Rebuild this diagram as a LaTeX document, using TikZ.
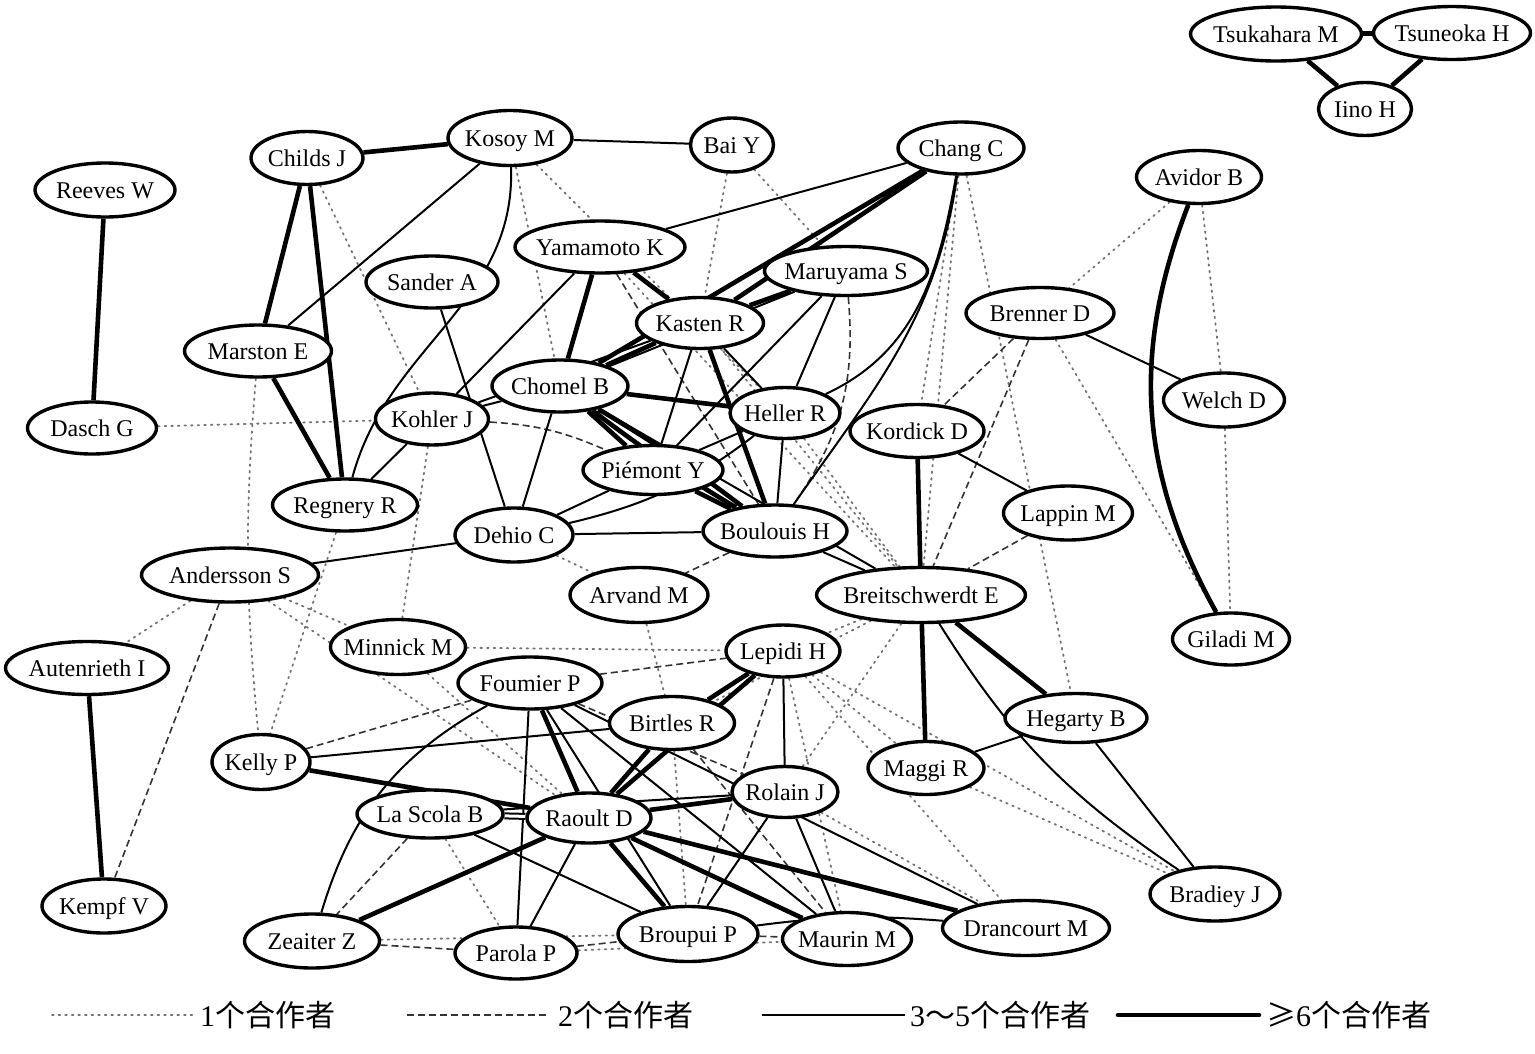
\documentclass[tikz,border=0pt]{standalone}
\usepackage{fontspec}
\setmainfont{Liberation Serif}
\newfontfamily\cjk{Noto Sans CJK SC}
\usetikzlibrary{shapes.geometric,backgrounds}
\newcommand\aun[5]{\node[au,minimum width=#4pt,minimum height=#5pt] (#1) at (#2) {\makebox[0pt]{#3}};}
\begin{document}
\begin{tikzpicture}[x=1pt,y=-1pt,
 au/.style={draw, ellipse, line width=3.4pt, fill=white, inner sep=0pt, text height=16pt, text depth=0pt, font=\fontsize{24}{27}\selectfont},
 th/.style={line width=4.6pt},
 md/.style={line width=2pt},
 da/.style={line width=1.6pt, black!80, dash pattern=on 7pt off 4pt},
 dt/.style={line width=1.8pt, black!55, dash pattern=on 1.6pt off 5pt, line cap=round},
 lg/.style={inner sep=0pt, anchor=west, font=\fontsize{30}{34}\selectfont}]
\useasboundingbox (0,0) rectangle (1535,1053);
\aun{tsuk}{1276,34}{Tsukahara M}{171}{54}
\aun{tsun}{1452,33}{Tsuneoka H}{157}{53}
\aun{iino}{1365,109}{Iino H}{93}{53}
\aun{childs}{307,158}{Childs J}{112}{53}
\aun{kosoy}{510,138}{Kosoy M}{124}{55}
\aun{bai}{732,145}{Bai Y}{83}{54}
\aun{chang}{961,148}{Chang C}{126}{52}
\aun{avidor}{1199,177}{Avidor B}{125}{53}
\aun{reeves}{105,190}{Reeves W}{140}{54}
\aun{yama}{600,247}{Yamamoto K}{170}{52}
\aun{sander}{432,282}{Sander A}{132}{52}
\aun{maru}{846,271}{Maruyama S}{163}{49}
\aun{brenner}{1040,313}{Brenner D}{148}{51}
\aun{kasten}{700,323}{Kasten R}{127}{51}
\aun{marston}{258,351}{Marston E}{147}{52}
\aun{chomel}{560,386}{Chomel B}{136}{52}
\aun{heller}{785,413}{Heller R}{110}{51}
\aun{welch}{1224,400}{Welch D}{121}{54}
\aun{kohler}{432,419}{Kohler J}{113}{52}
\aun{dasch}{92,428}{Dasch G}{129}{52}
\aun{kordick}{917,431}{Kordick D}{134}{53}
\aun{piemont}{653,470}{Piémont Y}{140}{49}
\aun{regnery}{345,505}{Regnery R}{145}{52}
\aun{lappin}{1068,513}{Lappin M}{129}{54}
\aun{dehio}{514,535}{Dehio C}{118}{54}
\aun{boulouis}{775,531}{Boulouis H}{144}{52}
\aun{anders}{230,575}{Andersson S}{177}{54}
\aun{arvand}{639,595}{Arvand M}{138}{55}
\aun{breit}{921,595}{Breitschwerdt E}{209}{55}
\aun{giladi}{1231,639}{Giladi M}{117}{52}
\aun{minnick}{398,647}{Minnick M}{135}{55}
\aun{lepidi}{783,651}{Lepidi H}{114}{52}
\aun{auten}{87,668}{Autenrieth I}{163}{53}
\aun{foumier}{530,683}{Foumier P}{144}{52}
\aun{birtles}{672,723}{Birtles R}{125}{53}
\aun{hegarty}{1076,718}{Hegarty B}{142}{49}
\aun{kelly}{261,762}{Kelly P}{98}{55}
\aun{maggi}{926,768}{Maggi R}{116}{53}
\aun{rolain}{785,792}{Rolain J}{106}{51}
\aun{lascola}{430,814}{La Scola B}{146}{48}
\aun{raoult}{589,818}{Raoult D}{124}{50}
\aun{kempf}{104,906}{Kempf V}{124}{54}
\aun{bradiey}{1215,894}{Bradiey J}{130}{54}
\aun{dranc}{1026,928}{Drancourt M}{167}{55}
\aun{zeaiter}{312,941}{Zeaiter Z}{135}{54}
\aun{broupui}{688,934}{Broupui P}{140}{55}
\aun{maurin}{847,939}{Maurin M}{129}{53}
\aun{parola}{516,953}{Parola P}{122}{52}
\begin{scope}[on background layer]
% one collaborator
\draw[dt] (dasch)--(kohler) (avidor)--(brenner) (avidor)--(welch) (welch)--(giladi) (brenner)--(giladi) (chang)--(kordick) (chang)--(breit) (chang)--(hegarty) (kosoy)--(chomel) (kosoy)--(heller) (bai)--(kasten) (bai)--(maru) (childs)--(kohler) (regnery)--(kelly) (kohler)--(minnick) (anders)--(auten) (anders)--(minnick) (anders)--(raoult) (minnick)--(lepidi) (dehio)--(arvand) (arvand)--(birtles) (breit)--(lepidi) (breit)--(rolain) (lepidi)--(maggi) (lepidi)--(bradiey) (lepidi)--(dranc) (maggi)--(bradiey) (rolain)--(dranc) (zeaiter)--(broupui) (parola)--(maurin) (yama)--(breit) (kasten)--(breit) (heller)--(breit) (breit)--(birtles) (lepidi)--(maurin) (lascola)--(parola) (birtles)--(broupui) (minnick)--(raoult);
\draw[dt] (marston) to[bend right=5] (kelly);
% two collaborators
\draw[da] (kelly)--(foumier) (lepidi)--(broupui) (birtles)--(maurin) (foumier)--(lepidi) (boulouis)--(arvand) (broupui)--(maurin) (zeaiter)--(parola) (parola)--(broupui) (anders)--(kempf) (lascola)--(zeaiter) (brenner)--(kordick) (brenner)--(breit) (lappin)--(breit) (yama)--(boulouis) (foumier)--(rolain);
\draw[da] (maru) to[out=-85,in=55] (boulouis);
\draw[da] (kohler) to[bend left=10] (piemont);
% three to five collaborators
\draw[md] (kosoy)--(bai) (kosoy)--(marston) (chang)--(yama) (maru)--(chomel) (maru)--(heller) (maru)--(piemont) (kasten)--(heller) (kasten)--(piemont) (kasten)--(kohler) (yama)--(kohler) (chomel)--(kohler) (chomel)--(dehio) (chomel)--(breit) (heller)--(boulouis) (heller)--(piemont) (piemont)--(dehio) (dehio)--(boulouis) (dehio)--(anders) (sander)--(dehio) (kohler)--(regnery) (kordick)--(lappin) (brenner)--(welch) (hegarty)--(bradiey) (hegarty)--(maggi) (lepidi)--(rolain) (kelly)--(birtles) (foumier)--(parola) (foumier)--(broupui) (foumier)--(maurin) (foumier)--(dranc) (lascola)--(broupui) (lascola)--(rolain) (raoult)--(parola) (rolain)--(broupui) (rolain)--(maurin) (boulouis)--(breit);
\draw[md] (kosoy) to[out=-88,in=75] (regnery);
\draw[md] (chang) to[out=-100,in=25] (heller);
\draw[md] (chang) to[out=-98,in=55] (boulouis);
\draw[md] (heller) to[bend left=12] (dehio);
\draw[md] (foumier) to[bend right=22] (zeaiter);
\draw[md] (breit) to[bend right=12] (bradiey);
\draw[md] (broupui) to[bend left=6] (dranc);
\draw[md, double, double distance=3pt] (lascola)--(raoult);
% six or more collaborators
\draw[th] (tsuk)--(tsun) (tsuk)--(iino) (tsun)--(iino) (reeves)--(dasch) (childs)--(kosoy) (childs)--(marston) (childs)--(regnery) (marston)--(regnery) (auten)--(kempf);
\draw[th] (avidor) to[bend right=25] (giladi);
\draw[th] (chang)--(kasten) (chang)--(chomel) (yama)--(chomel) (yama)--(kasten) (kasten)--(chomel) (kasten)--(boulouis) (chomel)--(heller) (chomel)--(piemont) (piemont)--(boulouis) (kordick)--(breit) (breit)--(maggi) (breit)--(hegarty) (lepidi)--(raoult) (lepidi)--(birtles) (birtles)--(raoult) (foumier)--(raoult) (raoult)--(rolain) (raoult)--(zeaiter) (raoult)--(broupui) (raoult)--(maurin) (raoult)--(dranc) (maru)--(kasten) (kelly)--(raoult);
\draw[th] (chomel) to[bend left=3] (boulouis) (chomel) to[bend right=3] (boulouis);
\end{scope}
% legend
\coordinate (l1a) at (52,1015); \coordinate (l1b) at (195,1015);
\coordinate (l2a) at (407,1015); \coordinate (l2b) at (548,1015);
\coordinate (l3a) at (762,1015); \coordinate (l3b) at (905,1015);
\coordinate (l4a) at (1118,1015); \coordinate (l4b) at (1259,1015);
\draw[dt] (l1a)--(l1b);
\draw[da] (l2a)--(l2b);
\draw[md] (l3a)--(l3b);
\draw[th, line cap=round] (l4a)--(l4b);
\node[lg] (t1) at (200,1015) {1{\cjk 个合作者}};
\node[lg] (t2) at (558,1015) {2{\cjk 个合作者}};
\node[lg] (t3) at (910,1015) {3{\cjk ～}5{\cjk 个合作者}};
\node[lg] (t4) at (1266,1015) {{\cjk ≥}6{\cjk 个合作者}};
\end{tikzpicture}
\end{document}
